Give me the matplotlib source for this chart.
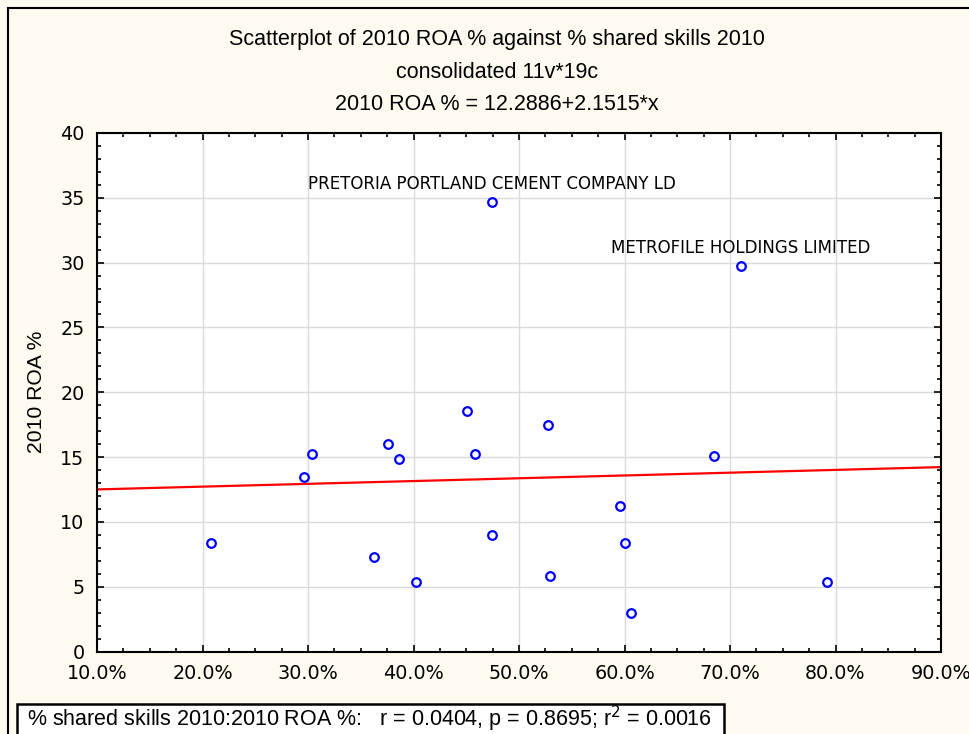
import numpy as np
import matplotlib
matplotlib.use("Agg")
import matplotlib.pyplot as plt
from matplotlib.patches import Rectangle
from matplotlib.ticker import MultipleLocator, FuncFormatter


# Data


shared_skills = [0.2076, 0.2959, 0.3037, 0.3624, 0.3763, 0.3861, 0.4019, 0.4508, 0.4587,
                 0.4745, 0.4745, 0.5275, 0.5294, 0.5962, 0.6000, 0.6060, 0.6846, 0.7101, 0.7924]
roa_2010 = [8.36, 13.47, 15.22, 7.26, 16.04, 14.88, 5.33, 18.55, 15.22,
            34.65, 9.0, 17.45, 5.82, 11.23, 8.36, 2.94, 15.06, 29.72, 5.33]

label_names = ["PRETORIA PORTLAND CEMENT COMPANY LD", "METROFILE HOLDINGS LIMITED"]
label_index = [9, 17]

intercept = 12.2886
slope = 2.1515

title_lines = [
    "Scatterplot of 2010 ROA % against % shared skills 2010",
    "consolidated 11v*19c",
    "2010 ROA % = 12.2886+2.1515*x",
]
stats_text = "% shared skills 2010:2010 ROA %:   r = 0.0404, p = 0.8695; r$^2$ = 0.0016"

W, H = 969, 734
bg = "#FFFAF0"


# Figure


fig = plt.figure(figsize=(W / 100, H / 100), dpi=100, facecolor=bg)
ax = fig.add_axes([97 / W, 1 - 651.5 / H, (941 - 97) / W, (651.5 - 133) / H])
ax.set_facecolor("white")

xs = np.array([0.1, 0.9])
ax.plot(xs, intercept + slope * xs, color="red", lw=1.6, zorder=2)

ax.plot(shared_skills, roa_2010, linestyle="none", marker="o", markersize=6.2,
        markerfacecolor="none", markeredgecolor="#0000FF", markeredgewidth=1.6, zorder=3)

for name, i in zip(label_names, label_index):
    ax.annotate(name, (shared_skills[i], roa_2010[i]), xytext=(0, 6.5),
                textcoords="offset points", ha="center", va="bottom",
                fontsize=12, family="DejaVu Sans", color="black")

ax.set_xlim(0.1, 0.9)
ax.set_ylim(0, 40)
ax.xaxis.set_major_locator(MultipleLocator(0.1))
ax.xaxis.set_minor_locator(MultipleLocator(0.025))
ax.yaxis.set_major_locator(MultipleLocator(5))
ax.yaxis.set_minor_locator(MultipleLocator(1))
ax.xaxis.set_major_formatter(FuncFormatter(lambda v, p: f"{v * 100:.1f}%"))

ax.grid(True, which="major", color="#DADADA", lw=1, zorder=0)
ax.set_axisbelow(True)

ax.tick_params(which="both", direction="in", top=True, right=True, color="black")
ax.tick_params(which="major", length=5, width=1.2, labelsize=13.8, pad=9)
ax.tick_params(which="minor", length=3, width=1.2)
for lab in ax.get_xticklabels() + ax.get_yticklabels():
    lab.set_family("DejaVu Sans")
ax.tick_params(axis="x", pad=9)

for s in ax.spines.values():
    s.set_color("black")
    s.set_linewidth(1.5)

ax.set_ylabel("2010 ROA %", fontsize=15.2, family="Liberation Sans", labelpad=10)

for k, line in enumerate(title_lines):
    fig.text(497 / W, 1 - (40 + 32 * k) / H, line, ha="center", va="center",
             fontsize=15.5, family="Liberation Sans")

# outer frame
fig.patches.append(Rectangle((8 / W, -0.1), 1.2, 1 - 8 / H + 0.1, transform=fig.transFigure,
                             fill=False, edgecolor="black", lw=1.5))

# stats box
fig.patches.append(Rectangle((17 / W, -0.1), (724 - 17) / W, 1 - 704 / H + 0.1,
                             transform=fig.transFigure, facecolor="white",
                             edgecolor="black", lw=1.8))
fig.text(27 / W, 1 - 719 / H, stats_text, ha="left", va="center",
         fontsize=15.5, family="Liberation Sans")

fig.savefig("out.png", dpi=100, facecolor=bg)
